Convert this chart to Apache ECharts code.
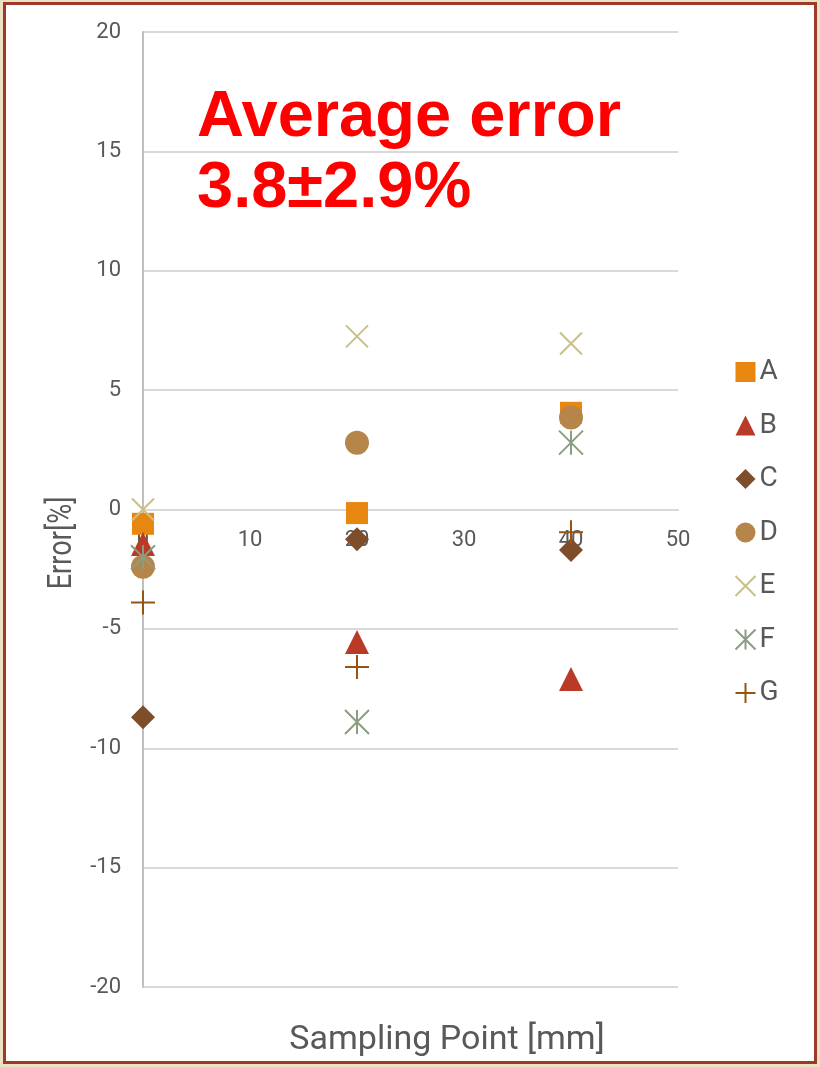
<!DOCTYPE html>
<html>
<head>
<meta charset="utf-8">
<script src="https://cdn.jsdelivr.net/npm/echarts@6/dist/echarts.min.js"></script>
<style>
  html, body { margin: 0; padding: 0; background: #ede3c4; }
  #frame { position: absolute; left: 3px; top: 2px; width: 808px; height: 1056px; background: #fff; border: 3px solid #9b3a2b; }
  #main { position: absolute; left: 0; top: 0; width: 820px; height: 1067px; }
</style>
</head>
<body>
<div id="frame"></div>
<div id="main"></div>
<script>
// sampling positions [mm] and error per sample [%]
const xPoints = [0, 20, 40]
const seriesNames = ['A', 'B', 'C', 'D', 'E', 'F', 'G']
const valuesA = [-0.6, -0.15, 4.05]
const valuesB = [-1.45, -5.55, -7.1]
const valuesC = [-8.7, -1.25, -1.7]
const valuesD = [-2.4, 2.8, 3.85]
const valuesE = [0.0, 7.25, 6.95]
const valuesF = [-2.0, -8.9, 2.8]
const valuesG = [-3.9, -6.6, -0.95]
const noteLines = ['Average error', '3.8±2.9%']

const allValues = [valuesA, valuesB, valuesC, valuesD, valuesE, valuesF, valuesG]
const colors = ['#e8870f', '#b83a27', '#7e4d2a', '#b5854a', '#c9bf87', '#8b9d80', '#955511']
const symbols = [
  'rect',
  'triangle',
  'diamond',
  'circle',
  'path://M0,0L20,20M20,0L0,20',
  'path://M0,0L20,20M20,0L0,20M10,0L10,20',
  'path://M10,0L10,20M0,10L20,10'
]
const sizes = [22, 24, 24, 24, 22, 24, 24]
const outlineOnly = [false, false, false, false, true, true, true]

const labelColor = '#595959'
const gridTop = 32
const gridBottom = 80
const plotHeight = 1067 - gridTop - gridBottom
const chart = echarts.init(document.getElementById('main'))

const series = seriesNames.map(function(name, i) {
  return {
    name: name,
    type: 'scatter',
    symbol: symbols[i],
    symbolSize: sizes[i],
    itemStyle: outlineOnly[i]
      ? { color: 'none', borderColor: colors[i], borderWidth: 2, opacity: 1 }
      : { color: colors[i], opacity: 1 },
    data: xPoints.map(function(x, j) { return [x, allValues[i][j]] })
  }
})

const option = {
  animation: false,
  backgroundColor: 'transparent',
  grid: { left: 143, right: 142, top: gridTop, bottom: gridBottom },
  xAxis: {
    type: 'value',
    min: 0,
    max: 50,
    interval: 10,
    // x axis crosses at y = 0 (middle of the -20..20 range)
    offset: -plotHeight / 2,
    axisLine: { onZero: false, lineStyle: { color: '#d9d9d9', width: 2 } },
    axisTick: { show: false },
    splitLine: { show: false },
    axisLabel: { color: labelColor, fontSize: 22, fontFamily: 'Roboto', margin: 20 }
  },
  yAxis: {
    type: 'value',
    min: -20,
    max: 20,
    interval: 5,
    axisLine: { show: true, onZero: false, lineStyle: { color: '#bfbfbf', width: 2 } },
    axisTick: { show: false },
    splitLine: { lineStyle: { color: '#d9d9d9', width: 2 } },
    axisLabel: { color: labelColor, fontSize: 22, fontFamily: 'Roboto', margin: 22 }
  },
  legend: {
    orient: 'vertical',
    left: 733,
    top: 358,
    padding: 0,
    itemWidth: 20,
    itemHeight: 20,
    itemGap: 25.5,
    data: seriesNames,
    textStyle: { color: labelColor, fontSize: 28, fontFamily: 'Roboto', padding: [0, 0, 0, -1] }
  },
  graphic: [
    {
      type: 'text', left: 197, top: 86,
      style: { text: noteLines[0], fill: '#ff0000', font: 'bold 65px "Liberation Sans"' }
    },
    {
      type: 'text', left: 197, top: 157,
      style: { text: noteLines[1], fill: '#ff0000', font: 'bold 65px "Liberation Sans"' }
    },
    {
      type: 'text', x: 447, y: 1040,
      style: { text: 'Sampling Point [mm]', fill: labelColor, font: '34px Roboto', align: 'center', verticalAlign: 'middle' }
    },
    {
      type: 'text', x: 62, y: 543, rotation: Math.PI / 2, scaleX: 0.8,
      style: { text: 'Error[%]', fill: labelColor, font: '34px Roboto', align: 'center', verticalAlign: 'middle' }
    }
  ],
  series: series
}
chart.setOption(option)
</script>
</body>
</html>
